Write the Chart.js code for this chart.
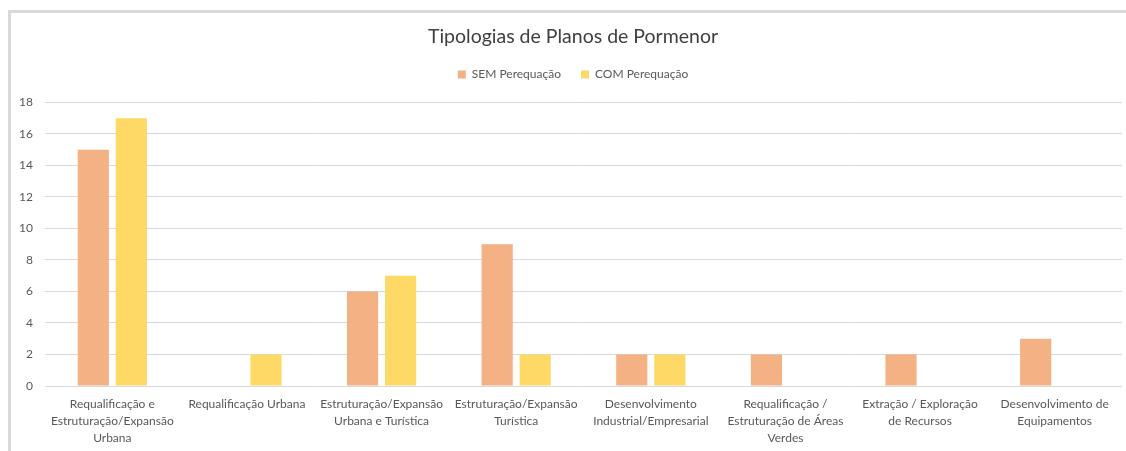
<!DOCTYPE html>
<html>
<head>
<meta charset="utf-8">
<script src="https://cdn.jsdelivr.net/npm/chart.js@4/dist/chart.umd.min.js"></script>
<style>
  html, body { margin: 0; background: #fff; overflow: hidden; width: 1126px; height: 451px; }
  #frame {
    position: absolute; left: 8px; top: 10px; width: 1200px; height: 500px;
    border-top: 3px solid #d9d9d9; border-left: 3px solid #d9d9d9;
  }
  #chart { position: absolute; left: 0; top: 0; }
</style>
</head>
<body>
<div id="frame"></div>
<canvas id="chart" width="1126" height="451"></canvas>
<script>
// ==================== DADOS ====================

const categories = [
  ['Requalificação e', 'Estruturação/Expansão', 'Urbana'],
  ['Requalificação Urbana'],
  ['Estruturação/Expansão', 'Urbana e Turística'],
  ['Estruturação/Expansão', 'Turística'],
  ['Desenvolvimento', 'Industrial/Empresarial'],
  ['Requalificação /', 'Estruturação de Áreas', 'Verdes'],
  ['Extração / Exploração', 'de Recursos'],
  ['Desenvolvimento de', 'Equipamentos']
];

const semPerequacao = [15, 0, 6, 9, 2, 2, 2, 3];
const comPerequacao = [17, 2, 7, 2, 2, 0, 0, 0];

const yTicks = [0, 2, 4, 6, 8, 10, 12, 14, 16, 18];

// ==================== GRÁFICO ====================

const textColor = '#595959';
const gridColor = '#d9d9d9';
const fontFamily = 'Lato, "Open Sans", sans-serif';

// espaço extra abaixo da legenda e título/legenda um pouco para a direita
const legendSpacing = {
  id: 'legendSpacing',
  beforeInit(chart) {
    const fit = chart.legend.fit;
    chart.legend.fit = function() {
      fit.bind(chart.legend)();
      this.height += 12;
    };
  },
  afterLayout(chart) {
    [chart.titleBlock, chart.legend].forEach(b => {
      b.left += 12;
      b.right += 12;
    });
  }
};

const ctx = document.getElementById('chart').getContext('2d');

new Chart(ctx, {
  type: 'bar',
  data: {
    labels: categories,
    datasets: [
      {
        label: 'SEM Perequação',
        data: semPerequacao,
        backgroundColor: '#f4b183',
        borderWidth: 0
      },
      {
        label: 'COM Perequação',
        data: comPerequacao,
        backgroundColor: '#ffd966',
        borderWidth: 0
      }
    ]
  },
  options: {
    responsive: false,
    animation: false,
    categoryPercentage: 0.565,
    barPercentage: 0.82,
    layout: {
      padding: { left: 0, right: 4, top: 0, bottom: 0 }
    },
    plugins: {
      title: {
        display: true,
        text: 'Tipologias de Planos de Pormenor',
        color: '#404040',
        font: { family: fontFamily, size: 19.5, weight: 'normal' },
        padding: { top: 25, bottom: 0 }
      },
      legend: {
        position: 'top',
        labels: {
          color: textColor,
          font: { family: fontFamily, size: 12 },
          boxWidth: 8,
          boxHeight: 8,
          padding: 20
        }
      },
      tooltip: { enabled: false }
    },
    scales: {
      x: {
        afterFit(scale) { scale.height = 65; },
        grid: { display: false, drawTicks: false },
        border: { display: false },
        ticks: {
          color: textColor,
          font: { family: fontFamily, size: 12, lineHeight: 1.45 },
          padding: 9,
          maxRotation: 0,
          autoSkip: false
        }
      },
      y: {
        min: 0,
        max: 18,
        afterFit(scale) { scale.width = 45; },
        afterBuildTicks(scale) { scale.ticks = yTicks.map(v => ({ value: v })); },
        grid: { color: gridColor, drawTicks: false },
        border: { display: false },
        ticks: {
          color: textColor,
          font: { family: fontFamily, size: 12 },
          padding: 12
        }
      }
    }
  },
  plugins: [legendSpacing]
});
</script>
</body>
</html>
